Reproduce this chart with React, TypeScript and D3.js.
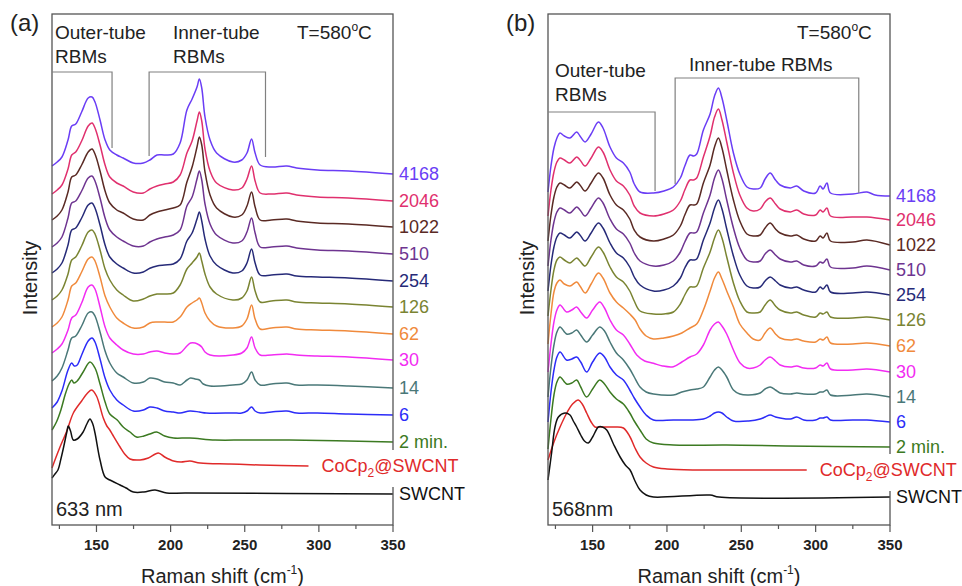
import React from 'react';
import * as d3 from 'd3';

// ---------- data ----------
const seriesNames = ['4168', '2046', '1022', '510', '254', '126', '62', '30', '14', '6', '2 min.', 'CoCp2@SWCNT', 'SWCNT'];
const seriesColors = ['#6a3df5', '#e0306e', '#5a2a24', '#6e3490', '#262a78', '#7a8432', '#f08a3c', '#f22cf2', '#4a7878', '#2c2cf8', '#3c7a22', '#e02a2a', '#111111'];

// vertical offsets (stacking) of each spectrum, arbitrary intensity units
const offsetsA = [351, 324, 298, 271, 244, 218, 191, 165, 137, 110, 83, 59, 31];
const offsetsB = [329, 305, 280, 255, 230, 205, 179, 153, 128, 103, 78, 55, 28];

const xDomain = [120, 350];
const majorTicks = [150, 200, 250, 300, 350];
const minorTicks = [125, 175, 225, 275, 325];

// ---- panel (a) 633 nm : [Raman shift, intensity above baseline] ----
const A_4168 = [[120,8],[123.5,12],[126.7,17],[130.8,34],[133.3,48],[136,50],[140,62],[144.4,76],[147,77],[149,72],[152.4,54],[155.8,34],[159,24],[163.7,19],[168,16],[174.8,11],[181.6,11],[186,14],[190.8,19],[196,19],[201.8,20],[206.4,31],[211,64],[214.5,75],[217.8,87],[219.4,95],[221,86],[223.2,57],[226.6,34],[231,21],[242,12],[248,14],[251.5,21],[254.6,35],[257,21],[260.4,9],[268,7],[278.4,8],[285,6],[299,4],[320,3],[350,0]];
const A_2046 = [[120,7],[123.5,11],[126.7,16],[130.8,32],[133.3,46],[136,49],[140,60],[144.4,75],[147,78],[149,73],[152.4,56],[155.8,36],[159,24],[163.7,18],[168,15],[174.8,9],[181.6,8],[186,12],[190.8,15],[196,17],[201.8,19],[206.4,26],[211,48],[214.5,60],[217.8,80],[219.4,89],[221,80],[223.2,52],[226.6,30],[231,18],[242,11],[248,13],[251.5,22],[254.6,35],[257,20],[260.4,8],[268,7],[278.4,8],[285,6],[299,4],[320,3],[350,0]];
const A_1022 = [[120,7],[123.5,11],[126.7,17],[130.8,35],[133.3,50],[136,52],[140,62],[144.4,75],[147,78],[149,73],[152.4,56],[155.8,36],[159,24],[163.7,17],[168,14],[174.8,8],[181.6,7],[186,12],[190.8,15],[196,17],[201.8,19],[206.4,22],[211,45],[214.5,60],[217.8,80],[219.4,90],[221,82],[223.2,55],[226.6,32],[231,19],[242,10],[248,12],[251.5,21],[254.6,35],[257,20],[260.4,7],[268,7],[278.4,8],[285,6],[299,4],[320,3],[350,0]];
const A_510 = [[120,7],[123.5,11],[126.7,17],[130.8,36],[133.3,51],[136,53],[140,63],[144.4,76],[147,78],[149,73],[152.4,56],[155.8,36],[159,24],[163.7,17],[168,13],[174.8,8],[181.6,8],[186,12],[190.8,15],[196,17],[201.8,19],[206.4,24],[211,48],[214.5,57],[217.8,75],[219.4,83],[221,74],[223.2,50],[226.6,30],[231,19],[242,11],[248,13],[251.5,22],[254.6,36],[257,21],[260.4,7],[268,7],[278.4,8],[285,6],[299,4],[320,3],[350,0]];
const A_254 = [[120,8],[123.5,12],[126.7,18],[130.8,36],[133.3,51],[136,53],[140,63],[144.4,76],[147,78],[149,73],[152.4,56],[155.8,36],[159,24],[163.7,17],[168,13],[174.8,8],[181.6,9],[186,12.7],[190.8,15],[196,16],[201.8,17],[206.4,22],[211,40],[214.5,48],[217.8,62],[219.4,69],[221,60],[223.2,42],[226.6,25],[231,16],[242,8],[248,10],[251.5,18],[254.6,32],[257,18],[260.4,6],[268,6],[278.4,7],[285,5],[299,4],[320,3],[350,0]];
const A_126 = [[120,7],[123.5,11],[126.7,17],[130.8,33],[133.3,47],[136,50],[140,61],[144.4,75],[147,77],[149,73],[152.4,57],[155.8,38],[159,27],[163.7,17],[168,12],[174.8,6],[181.6,8],[186,11],[190.8,13],[196,13],[201.8,14],[206.4,22],[211,38],[214.5,44],[217.8,50],[219.4,54],[221,46],[223.2,33],[226.6,20],[231,13],[242,7],[248,9],[251.5,16],[254.6,30],[257,16],[260.4,5],[268,6],[278.4,7],[285,5],[299,4],[320,3],[350,0]];
const A_62 = [[120,7],[123.5,11],[126.7,17],[130.8,34],[133.3,48],[136,51],[140,62],[144.4,75],[147,77],[149,73],[152.4,57],[155.8,38],[159,27],[163.7,16],[168,11],[174.8,6],[181.6,7],[186,11],[190.8,12],[196,12],[201.8,12],[206.4,17],[211,27],[214.5,31],[217.8,34],[219.4,36],[221,31],[223.2,21],[226.6,13],[231,8],[242,6],[248,8],[251.5,15],[254.6,29],[257,15],[260.4,5],[268,6],[278.4,7],[285,5],[299,4],[320,3],[350,0]];
const A_30 = [[120,7],[123.5,11],[126.7,16],[130.8,30],[133.3,42],[136,45],[140,57],[144.4,73],[147,75],[149,71],[152.4,53],[155.8,33],[159,22],[163.7,15],[168,10],[174.8,6],[181.6,6],[186,8],[190.8,9],[196,7],[201.8,6],[206.4,7],[211,14],[213.5,17],[216.5,17],[219.4,15],[221,13],[223.2,8],[226.6,5],[242,5],[248,7],[251.5,12],[254.6,23],[257,12],[260.4,5],[268,5],[278.4,6],[285,5],[299,4],[320,3],[350,0]];
const A_14 = [[120,7],[123.5,12],[126.7,20],[130.8,38],[133.3,50],[136,52],[140,62],[144.4,75],[147,76],[149,72],[152.4,56],[155.8,37],[159,25],[163.7,15],[168,11],[174.8,5],[181.6,6],[186,10],[190.8,9],[196,6],[201.8,5],[206.4,3],[211,8],[213.5,10],[216.5,9],[219.4,8],[222,4],[226.6,2],[242,3],[248,4],[251.5,8],[254.6,16],[257,8],[260.4,3],[268,4],[278.4,5],[285,3],[299,3],[320,2],[350,0]];
const A_6 = [[120,7],[123.5,13],[126.7,24],[130.8,45],[133.3,52],[135,49],[137,50],[140,60],[144.4,74],[147,77],[149,73],[152.4,56],[155.8,37],[159,25],[163.7,15],[168,10],[174.8,4],[181.6,5],[186,8],[190.8,7],[196,4],[201.8,3],[206.4,2],[213,4],[219.4,3],[224,2],[242,2],[248,2],[251.5,4],[254.6,8],[257,4],[260.4,2],[268,3],[278.4,4],[285,2],[299,2],[320,1],[350,0]];
const A_2min = [[120,12],[123,20],[126,32],[129,48],[131.5,58],[133.3,62],[134.8,59],[137,61],[141,70],[145.6,80],[149,74],[152.4,58],[155.8,40],[159,28],[164,22],[168,15],[172.6,10],[177,5],[182,6],[186,8],[190.6,10],[196,6],[202,4],[213,4],[230,2],[250,2],[280,2],[350,0]];
const A_CoCp = [[120,-2],[122.5,8],[125.4,19],[130,35],[134.4,53],[140,65],[144,73],[146.8,76],[150,70],[154.6,48],[157,40],[159,36],[161,31],[165.9,19],[169,12],[172.6,7],[179.4,6],[185,8],[191.7,13],[196,9],[202,5],[207,4],[213,5],[220,3],[240,2],[260,1],[293,0]];
const A_SW = [[120,16],[122,20],[124,24],[126,35],[128,48],[130,62],[131,68],[132.5,63],[134.4,54],[137,55],[141,62],[143.5,70],[145.6,75],[147.5,70],[149,61],[152.4,34],[155.8,17],[159,14],[165.9,9],[170,6],[174.9,2],[182,2],[189.5,4],[197.4,1],[210,1],[350,0]];

// ---- panel (b) 568 nm ----
const B_4168 = [[120,4],[122,30],[124,48],[126,58],[128,63],[131,60],[134.8,58],[139.3,64],[141.5,60],[144.9,54],[149,62],[153.9,74],[157,68],[161.7,49],[166,38],[170.7,33],[175,24],[178,12],[181.9,4],[190.9,3],[198,5],[204.3,9],[209,18],[212,30],[215.5,41],[218,40],[220,42],[224.5,66],[229,82],[232,100],[234.6,108],[237,98],[240.2,76],[244.7,43],[249,22],[253.8,9],[258,7],[262.7,8],[266,17],[269.4,23],[273,16],[276.1,11],[283,8],[287.3,10],[292,5],[300,3],[303,10],[305,7],[307.6,13],[310,3],[325,2],[334.5,4],[340,1],[350,0]];
const B_2046 = [[120,4],[122,30],[124,48],[126,58],[128,62],[131,60],[134.8,57],[139.3,63],[141.5,60],[144.9,54],[149,62],[153.9,73],[157,68],[161.7,50],[166,39],[170.7,34],[175,25],[178,14],[181.9,7],[190.9,4],[198,6],[204.3,10],[209,19],[212,30],[215.5,40],[218,40],[220,42],[224.5,63],[229,84],[232,103],[234.6,111],[237,100],[240.2,78],[244.7,47],[249,25],[253.8,12],[258,9],[262.7,11],[266,18],[269.4,22],[273,16],[276.1,11],[283,8],[287.3,10],[292,6],[300,5],[303,10],[305,8],[307.6,12],[310,4],[325,3],[334.5,3],[350,0]];
const B_1022 = [[120,4],[122,30],[124,48],[126,58],[128,62],[131,60],[134.8,57],[139.3,63],[141.5,60],[144.9,54],[149,62],[153.9,72],[157,67],[161.7,50],[166,40],[170.7,35],[175,26],[178,15],[181.9,8],[190.9,4],[198,6],[204.3,10],[209,19],[212,30],[215.5,40],[218,40],[220,41],[224.5,62],[229,80],[232,98],[234.6,107],[237,97],[240.2,75],[244.7,45],[249,24],[253.8,11],[258,9],[262.7,10],[266,17],[269.4,22],[273,16],[276.1,12],[283,9],[287.3,10],[292,6],[300,4],[303,9],[305,7],[307.6,12],[310,4],[325,3],[334.5,5],[350,0]];
const B_510 = [[120,4],[122,30],[124,48],[126,58],[128,62],[131,60],[134.8,57],[139.3,63],[141.5,60],[144.9,54],[149,62],[153.9,72],[157,67],[161.7,51],[166,41],[170.7,36],[175,27],[178,17],[181.9,9],[190.9,4],[198,5],[204.3,9],[209,18],[212,28],[215.5,37],[218,37],[220,38],[224.5,57],[229,75],[232,92],[234.6,100],[237,91],[240.2,70],[244.7,42],[249,22],[253.8,10],[258,8],[262.7,9],[266,16],[269.4,20],[273,15],[276.1,11],[283,8],[287.3,9],[292,5],[300,4],[303,8],[305,7],[307.6,11],[310,3],[325,2],[334.5,4],[350,0]];
const B_254 = [[120,4],[122,30],[124,48],[126,58],[128,62],[131,60],[134.8,57],[139.3,63],[141.5,60],[144.9,54],[149,62],[153.9,72],[157,67],[161.7,52],[166,42],[170.7,37],[175,28],[178,18],[181.9,10],[190.9,4],[198,5],[204.3,9],[209,17],[212,27],[215.5,35],[218,35],[220,36],[224.5,55],[229,72],[232,87],[234.6,95],[237,86],[240.2,66],[244.7,39],[249,20],[253.8,9],[258,7],[262.7,8],[266,14],[269.4,18],[273,14],[276.1,10],[283,7],[287.3,8],[292,5],[300,3],[303,8],[305,6],[307.6,10],[310,3],[325,2],[334.5,3],[350,0]];
const B_126 = [[120,4],[122,30],[124,50],[126,60],[128,63],[131,60],[134.8,57],[139.3,62],[141.5,59],[144.9,54],[149,63],[153.9,73],[157,68],[161.7,53],[166,43],[170.7,38],[175,29],[178,19],[181.9,9],[190.9,6],[198,6],[204.3,8],[209,16],[212,25],[215.5,33],[218,33],[220,34],[224.5,52],[229,68],[232,82],[234.6,90],[237,82],[240.2,63],[244.7,37],[249,19],[253.8,8],[258,7],[262.7,8],[266,15],[269.4,20],[273,14],[276.1,10],[283,7],[287.3,8],[292,5],[300,3],[303,7],[305,6],[307.6,8],[310,3],[325,2],[334.5,3],[350,0]];
const B_62 = [[120,2],[122,32],[124,54],[126,63],[128,66],[131,62],[134.8,60],[139.3,64],[141.5,60],[145,53],[149,62],[153.9,73],[157,68],[161.7,53],[166,44],[170.7,38],[175,32],[178.6,26],[181.9,17],[186,10],[190.9,7],[198,8],[204.3,10],[210,13],[215.5,18],[220,22],[224.5,36],[229,55],[232,68],[234.6,74],[237,67],[240.2,55],[244.7,39],[249,22],[253.8,13],[258,7],[262.7,6],[266,13],[269.4,18],[273,12],[276.1,8],[283,6],[287.3,7],[292,5],[300,4],[303,7],[305,6],[307.6,9],[310,3],[325,2],[334.5,3],[350,0]];
const B_30 = [[120,0],[122,28],[124,50],[126,62],[128.1,67],[132.5,60],[136,62],[139.3,65],[142,60],[146,54],[150,62],[154.8,70],[158,64],[161.7,52],[166,42],[170.7,37],[175,28],[179.7,17],[185,11],[190.9,8.7],[197,6],[204.3,5.3],[210,10],[215.5,15],[220,18],[224.5,27],[229,42],[232,48],[234.6,50],[237,46],[240.2,38],[244.7,22],[249.2,9],[253.8,4],[258,4],[262.7,7],[266,12],[269.4,15],[273,11],[276.1,7],[283,5],[287.3,6],[292,4],[300,4],[303,7],[305,6],[307.6,9],[310,3],[325,2],[334.5,3],[350,0]];
const B_14 = [[120,0],[122,30],[124,52],[126,65],[128.1,70],[132.5,63],[136,64],[139.3,67],[142,62],[146,55],[150,62],[154.8,70],[158,66],[161.7,55],[166,44],[170.7,37],[175,28],[178,20],[181.9,10],[186,5],[190.9,3],[204.3,2],[210,5],[215.5,7],[220,8],[224.5,10],[229,20],[232,27],[234.6,30],[237,27],[240.2,20],[244.7,7],[249,3],[255,2],[262.7,4],[266,8],[269.4,10],[273,7],[276.1,4],[283,3],[287.3,4],[292,3],[300,3],[303,5],[305,5],[307.6,7],[310,2],[325,2],[334.5,3],[350,0]];
const B_6 = [[120,0],[122,30],[124,52],[126,65],[128.1,70],[132.5,62],[136,63],[139.3,65],[142,60],[146,50],[150,60],[154.8,69],[158,65],[161.7,55],[166,47],[170.7,42],[175,32],[178,24],[181.9,15],[186,7],[190.9,2],[204.3,2],[215.5,2],[224.5,3],[229,6],[232,9],[234.6,10],[237,9],[240.2,5],[244.7,1],[255,1],[262.7,3],[266,5],[269.4,7],[273,5],[276.1,4],[283,3],[287.3,5],[292,2],[300,2],[303,4],[305,4],[307.6,5],[310,2],[325,2],[334.5,2],[350,0]];
const B_2min = [[120,-2],[122,28],[124,52],[126,65],[128.1,70],[132.5,63],[136,64],[139.3,67],[142,60],[146,50],[150,58],[154.8,67],[158,63],[161.7,55],[166,48],[170.7,43],[175,34],[178,26],[181.9,17],[186,8],[190.9,4],[204.3,2],[240,2],[280,1],[350,0]];
const B_CoCp = [[120,10],[124,28],[128.1,43],[133,58],[136.5,66],[140.4,70],[143,66],[146,57],[149,48],[151.6,43],[155,43],[159.5,43],[165,43],[170.7,42],[175.2,33],[178.5,22],[181.9,13],[186,7],[190.9,3],[200,1],[220,0],[260,0],[294,0]];
const B_SW = [[120,17],[122.5,45],[124.7,70],[127,80],[131.4,84],[134.8,82],[137,76],[139.3,70],[142,62],[144.5,56],[147.1,54],[150,60],[153.9,70],[156.5,70],[159.5,67],[164,53],[168.5,40],[172,32],[175.2,27],[178.5,16],[181.9,7],[186,2],[190.9,0],[229,2],[235,0],[350,0]];

const curvesA = [A_4168, A_2046, A_1022, A_510, A_254, A_126, A_62, A_30, A_14, A_6, A_2min, A_CoCp, A_SW];
const curvesB = [B_4168, B_2046, B_1022, B_510, B_254, B_126, B_62, B_30, B_14, B_6, B_2min, B_CoCp, B_SW];

// ---------- drawing ----------
const FONT = 'Liberation Sans, Arial, Helvetica, sans-serif';
const TOP = 14;
const BOTTOM = 525;

type PanelProps = {
  left: number;
  right: number;
  curves: number[][][];
  offsets: number[];
  letter: string;
  laser: string;
  outer: { end: number; barY: number; drop: number; textX: number; textY: number };
  inner: { start: number; end: number; barY: number; dropL: number; dropR: number; textX: number; textY: number; oneLine: boolean };
  tempX: number;
  yTitleX: number;
};

function Panel(p: PanelProps) {
  const x = d3.scaleLinear().domain(xDomain).range([p.left, p.right]);
  const y = d3.scaleLinear().domain([0, BOTTOM - TOP]).range([BOTTOM, TOP]);
  const line = d3
    .line<number[]>()
    .x((d) => x(d[0]))
    .y((d) => y(d[1]))
    .curve(d3.curveCatmullRom.alpha(0.5));

  const cocpIdx = 11;
  const cocp = p.curves[cocpIdx];
  const cocpEndX = x(cocp[cocp.length - 1][0]);
  const cocpY = y(p.offsets[cocpIdx]);
  const gray = '#808080';

  return (
    <g fontFamily={FONT}>
      {p.curves.map((c, i) => (
        <path
          key={i}
          d={line(c.map((d) => [d[0], p.offsets[i] + d[1]])) || ''}
          fill="none"
          stroke={seriesColors[i]}
          strokeWidth={1.5}
          strokeLinejoin="round"
        />
      ))}
      {/* frame */}
      <rect x={p.left} y={TOP} width={p.right - p.left} height={BOTTOM - TOP} fill="none" stroke="#555" strokeWidth={1.3} />
      {/* ticks */}
      {majorTicks.map((t) => (
        <g key={'M' + t}>
          <line x1={x(t)} x2={x(t)} y1={BOTTOM} y2={BOTTOM + 7} stroke="#555" strokeWidth={1.2} />
          <text x={x(t)} y={550} textAnchor="middle" fontSize={15} fontWeight="bold" fill="#222">
            {t}
          </text>
        </g>
      ))}
      {minorTicks.map((t) => (
        <line key={'m' + t} x1={x(t)} x2={x(t)} y1={BOTTOM} y2={BOTTOM + 4} stroke="#555" strokeWidth={1.2} />
      ))}
      {/* brackets */}
      <path d={`M${x(xDomain[0])},${p.outer.barY}H${x(p.outer.end)}V${p.outer.drop}`} fill="none" stroke={gray} strokeWidth={1.2} />
      <path
        d={`M${x(p.inner.start)},${p.inner.dropL}V${p.inner.barY}H${x(p.inner.end)}V${p.inner.dropR}`}
        fill="none"
        stroke={gray}
        strokeWidth={1.2}
      />
      <text x={p.outer.textX} y={p.outer.textY} fontSize={19} fill="#222">
        Outer-tube
      </text>
      <text x={p.outer.textX} y={p.outer.textY + 24} fontSize={19} fill="#222">
        RBMs
      </text>
      {p.inner.oneLine ? (
        <text x={p.inner.textX} y={p.inner.textY} fontSize={19} fill="#222">
          Inner-tube RBMs
        </text>
      ) : (
        <>
          <text x={p.inner.textX} y={p.inner.textY} fontSize={19} fill="#222">
            Inner-tube
          </text>
          <text x={p.inner.textX} y={p.inner.textY + 24} fontSize={19} fill="#222">
            RBMs
          </text>
        </>
      )}
      <text x={p.tempX} y={39} fontSize={19} fill="#222">
        T=580
        <tspan fontSize={12} dy={-8}>
          o
        </tspan>
        <tspan dy={8}>C</tspan>
      </text>
      <text x={p.left - 42} y={31} fontSize={24} fill="#222">
        {p.letter}
      </text>
      <text x={p.left + 4} y={516} fontSize={20} fill="#222">
        {p.laser}
      </text>
      {/* series labels */}
      <rect x={cocpEndX + 8} y={cocpY - 16} width={160} height={37} fill="#fff" />
      {seriesNames.map((n, i) => {
        const yy = y(p.offsets[i]);
        if (i === cocpIdx) {
          return (
            <text key={n} x={cocpEndX + 13} y={yy} dy="0.35em" fontSize={18} fill={seriesColors[i]}>
              CoCp
              <tspan fontSize={12} dy={5}>
                2
              </tspan>
              <tspan dy={-5}>@SWCNT</tspan>
            </text>
          );
        }
        return (
          <text key={n} x={p.right + 6} y={yy} dy="0.35em" fontSize={18} fill={seriesColors[i]}>
            {n}
          </text>
        );
      })}
      {/* axis titles */}
      <text x={(p.left + p.right) / 2} y={583} textAnchor="middle" fontSize={20} fill="#222">
        Raman shift (cm
        <tspan fontSize={12} dy={-9}>
          -1
        </tspan>
        <tspan dy={9}>)</tspan>
      </text>
      <text transform={`translate(${p.yTitleX},278) rotate(-90)`} textAnchor="middle" fontSize={20} fill="#222">
        Intensity
      </text>
    </g>
  );
}

export default function App() {
  return (
    <svg width={962} height={586} viewBox="0 0 962 586" style={{ position: 'absolute', left: 0, top: 0, background: '#fff' }}>
      <rect width={962} height={586} fill="#fff" />
      <Panel
        left={52}
        right={393}
        curves={curvesA}
        offsets={offsetsA}
        letter="(a)"
        laser="633 nm"
        outer={{ end: 160.5, barY: 72, drop: 148, textX: 55, textY: 39 }}
        inner={{ start: 185.5, end: 264, barY: 72, dropL: 156, dropR: 157, textX: 173, textY: 39, oneLine: false }}
        tempX={297}
        yTitleX={37}
      />
      <Panel
        left={548}
        right={890}
        curves={curvesB}
        offsets={offsetsB}
        letter="(b)"
        laser="568nm"
        outer={{ end: 192, barY: 112, drop: 191, textX: 555, textY: 77 }}
        inner={{ start: 205.5, end: 329, barY: 78, dropL: 184, dropR: 193, textX: 689, textY: 71, oneLine: true }}
        tempX={797}
        yTitleX={534}
      />
    </svg>
  );
}
